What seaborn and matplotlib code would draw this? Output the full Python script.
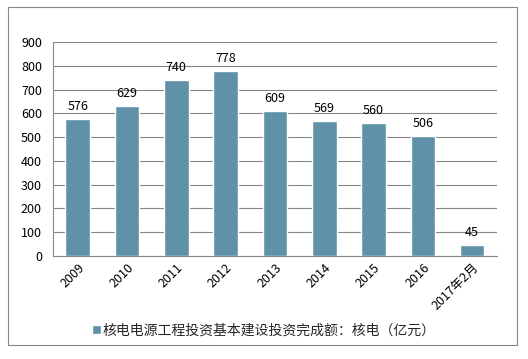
import matplotlib
matplotlib.use('Agg')
import matplotlib.pyplot as plt
import seaborn as sns
import pandas as pd
from matplotlib.patches import Rectangle

years = ['2009', '2010', '2011', '2012', '2013', '2014', '2015', '2016', '2017年2月']
values = [576, 629, 740, 778, 609, 569, 560, 506, 45]
series_name = '核电电源工程投资基本建设投资完成额：核电（亿元）'

df = pd.DataFrame({'year': years, 'value': values})

sns.set_style('white')
plt.rcParams['font.family'] = ['Noto Sans CJK SC', 'DejaVu Sans']

fig = plt.figure(figsize=(5.28, 3.59), dpi=100)
ax = fig.add_axes([0.1004, 0.287, 0.8405, 0.596])

bar_color = '#5F92A8'
sns.barplot(data=df, x='year', y='value', color=bar_color, width=0.5,
            saturation=1, ax=ax, zorder=3, label=series_name)

for i, v in enumerate(values):
    ax.text(i, v + 25, str(v), ha='center', va='bottom', fontsize=9, color='#000000')

ax.set_ylim(0, 900)
ax.set_yticks(range(0, 901, 100))
ax.set_xlim(-0.5, len(years) - 0.5)
ax.grid(axis='y', color='#868686', linewidth=0.8, zorder=0)
ax.set_xlabel('')
ax.set_ylabel('')
for side in ['top', 'right']:
    ax.spines[side].set_visible(False)
for side in ['left', 'bottom']:
    ax.spines[side].set_color('#868686')
    ax.spines[side].set_linewidth(0.8)
ax.tick_params(axis='both', length=0, labelsize=9, colors='#000000')
ax.tick_params(axis='y', pad=8)
plt.setp(ax.get_xticklabels(), rotation=45, ha='right', rotation_mode='anchor')

leg = ax.legend(loc='center', bbox_to_anchor=(0.5, 0.08), bbox_transform=fig.transFigure,
                frameon=False, fontsize=10, handlelength=0.6, handleheight=0.6,
                handletextpad=0.15)

fig.patches.append(Rectangle((8 / 528, 1 - 345 / 359), 509 / 528, 338 / 359,
                             transform=fig.transFigure, fill=False,
                             edgecolor='#868686', linewidth=0.8))

fig.savefig('out.png', dpi=100)
